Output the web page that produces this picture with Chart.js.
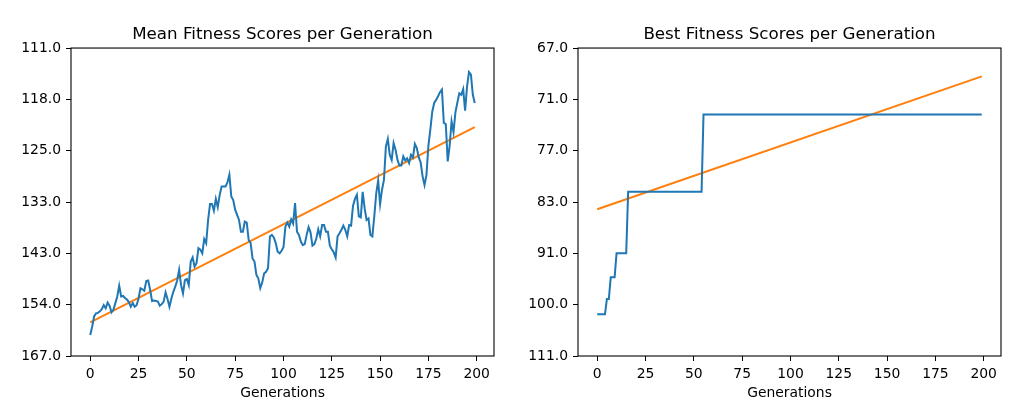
<!DOCTYPE html>
<html>
<head>
<meta charset="utf-8">
<script src="https://cdn.jsdelivr.net/npm/chart.js@4"></script>
<style>
  html, body { margin: 0; padding: 0; background: #fff; }
  #wrap { position: relative; width: 1025px; height: 400px; }
  .box { position: absolute; top: 0; height: 400px; }
</style>
</head>
<body>
<div id="wrap">
  <div class="box" style="left:0;width:512px"><canvas id="meanChart"></canvas></div>
  <div class="box" style="left:512px;width:513px"><canvas id="bestChart"></canvas></div>
</div>
<script>
// y values are in tick-slot units (0 = bottom tick, 6 = top tick)
const generations = Array.from({ length: 200 }, (_, i) => i);
const xTicks = [0, 25, 50, 75, 100, 125, 150, 175, 200];
const slotTicks = [0, 1, 2, 3, 4, 5, 6];

const meanTickLabels = ["167.0", "154.0", "143.0", "133.0", "125.0", "118.0", "111.0"];
const bestTickLabels = ["111.0", "100.0", "91.0", "83.0", "77.0", "71.0", "67.0"];

const meanScores = [
  0.41, 0.57, 0.77, 0.83, 0.84, 0.87, 0.91, 0.99, 0.93, 1.04,
  0.98, 0.85, 0.90, 1.03, 1.16, 1.37, 1.16, 1.17, 1.13, 1.10,
  1.05, 0.96, 1.03, 0.96, 0.99, 1.12, 1.32, 1.30, 1.27, 1.46,
  1.47, 1.29, 1.07, 1.08, 1.07, 1.06, 0.98, 1.01, 1.06, 1.24,
  1.11, 0.96, 1.12, 1.25, 1.35, 1.47, 1.68, 1.38, 1.22, 1.48,
  1.50, 1.38, 1.84, 1.92, 1.74, 1.81, 2.10, 2.07, 2.00, 2.28,
  2.20, 2.65, 2.96, 2.96, 2.83, 3.06, 2.90, 3.14, 3.30, 3.30,
  3.30, 3.38, 3.53, 3.11, 3.04, 2.85, 2.75, 2.65, 2.42, 2.42,
  2.62, 2.60, 2.26, 2.20, 1.90, 1.84, 1.58, 1.51, 1.32, 1.43,
  1.61, 1.64, 1.71, 2.33, 2.36, 2.31, 2.20, 2.03, 2.00, 2.05,
  2.12, 2.52, 2.60, 2.52, 2.66, 2.58, 2.98, 2.42, 2.36, 2.23,
  2.16, 2.18, 2.36, 2.51, 2.41, 2.15, 2.18, 2.29, 2.47, 2.33,
  2.55, 2.55, 2.42, 2.42, 2.15, 2.08, 2.02, 1.92, 2.33, 2.39,
  2.46, 2.54, 2.46, 2.33, 2.55, 2.54, 2.93, 3.06, 3.14, 2.72,
  2.70, 3.20, 2.88, 2.65, 2.68, 2.36, 2.33, 2.72, 3.17, 3.42,
  2.96, 3.24, 3.43, 4.08, 4.23, 3.92, 3.82, 4.15, 4.02, 3.82,
  3.71, 3.71, 3.89, 3.81, 3.85, 3.76, 3.92, 3.87, 4.13, 4.05,
  3.87, 3.77, 3.50, 3.33, 3.53, 4.10, 4.41, 4.76, 4.93, 4.99,
  5.06, 5.14, 5.19, 4.54, 4.52, 3.79, 4.10, 4.57, 4.36, 4.75,
  4.94, 5.12, 5.09, 5.20, 4.78, 5.25, 5.53, 5.48, 5.09, 4.93
];

const bestScores = [
  0.813, 0.813, 0.813, 0.813, 0.813, 1.11, 1.11, 1.535, 1.535, 1.535,
  2.0, 2.0, 2.0, 2.0, 2.0, 2.0, 3.2, 3.2, 3.2, 3.2,
  3.2, 3.2, 3.2, 3.2, 3.2, 3.2, 3.2, 3.2, 3.2, 3.2,
  3.2, 3.2, 3.2, 3.2, 3.2, 3.2, 3.2, 3.2, 3.2, 3.2,
  3.2, 3.2, 3.2, 3.2, 3.2, 3.2, 3.2, 3.2, 3.2, 3.2,
  3.2, 3.2, 3.2, 3.2, 3.2, 4.706, 4.706, 4.706, 4.706, 4.706,
  4.706, 4.706, 4.706, 4.706, 4.706, 4.706, 4.706, 4.706, 4.706, 4.706,
  4.706, 4.706, 4.706, 4.706, 4.706, 4.706, 4.706, 4.706, 4.706, 4.706,
  4.706, 4.706, 4.706, 4.706, 4.706, 4.706, 4.706, 4.706, 4.706, 4.706,
  4.706, 4.706, 4.706, 4.706, 4.706, 4.706, 4.706, 4.706, 4.706, 4.706,
  4.706, 4.706, 4.706, 4.706, 4.706, 4.706, 4.706, 4.706, 4.706, 4.706,
  4.706, 4.706, 4.706, 4.706, 4.706, 4.706, 4.706, 4.706, 4.706, 4.706,
  4.706, 4.706, 4.706, 4.706, 4.706, 4.706, 4.706, 4.706, 4.706, 4.706,
  4.706, 4.706, 4.706, 4.706, 4.706, 4.706, 4.706, 4.706, 4.706, 4.706,
  4.706, 4.706, 4.706, 4.706, 4.706, 4.706, 4.706, 4.706, 4.706, 4.706,
  4.706, 4.706, 4.706, 4.706, 4.706, 4.706, 4.706, 4.706, 4.706, 4.706,
  4.706, 4.706, 4.706, 4.706, 4.706, 4.706, 4.706, 4.706, 4.706, 4.706,
  4.706, 4.706, 4.706, 4.706, 4.706, 4.706, 4.706, 4.706, 4.706, 4.706,
  4.706, 4.706, 4.706, 4.706, 4.706, 4.706, 4.706, 4.706, 4.706, 4.706,
  4.706, 4.706, 4.706, 4.706, 4.706, 4.706, 4.706, 4.706, 4.706, 4.706
];

// fitted trend lines, value at first and last generation
const trendGens = [0, 199];
const meanTrend = [0.657, 4.46];
const bestTrend = [2.86, 5.447];

const FONT = "DejaVu Sans";

const framePlugin = {
  id: "frame",
  afterDatasetsDraw(chart) {
    const a = chart.chartArea;
    const ctx = chart.ctx;
    ctx.save();
    ctx.strokeStyle = "#000";
    ctx.lineWidth = 1.1;
    ctx.strokeRect(a.left, a.top, a.right - a.left, a.bottom - a.top);
    ctx.restore();
  }
};

function makeChart(id, title, scores, trend, tickLabels, yWidth, padRight) {
  new Chart(document.getElementById(id), {
    type: "line",
    data: {
      datasets: [
        {
          data: generations.map((g, i) => ({ x: g, y: scores[i] })),
          borderColor: "#1f77b4",
          borderWidth: 2,
          pointRadius: 0,
          tension: 0,
        },
        {
          data: trendGens.map((g, i) => ({ x: g, y: trend[i] })),
          borderColor: "#ff7f0e",
          borderWidth: 2,
          pointRadius: 0,
          tension: 0,
        },
      ],
    },
    options: {
      responsive: true,
      maintainAspectRatio: false,
      animation: false,
      layout: { padding: { left: 0, right: padRight, top: 0, bottom: 0 } },
      plugins: {
        legend: { display: false },
        tooltip: { enabled: false },
        title: {
          display: true,
          text: title,
          fullSize: false,
          color: "#000",
          font: { family: FONT, size: 16.7, weight: "normal" },
          padding: { top: 25, bottom: 3 },
        },
      },
      scales: {
        x: {
          type: "linear",
          min: -9.95,
          max: 208.95,
          afterBuildTicks: (s) => { s.ticks = xTicks.map((v) => ({ value: v })); },
          afterFit: (s) => { s.height = 44; },
          border: { display: false },
          grid: { drawOnChartArea: false, drawTicks: true, tickLength: 5, color: "#000" },
          ticks: { color: "#000", font: { family: FONT, size: 13.9 }, padding: 5, maxRotation: 0, autoSkip: false },
          title: {
            display: true,
            text: "Generations",
            color: "#000",
            font: { family: FONT, size: 13.9, lineHeight: 1.0 },
            padding: { top: 0, bottom: 0 },
          },
        },
        y: {
          type: "linear",
          min: 0,
          max: 6,
          afterBuildTicks: (s) => { s.ticks = slotTicks.map((v) => ({ value: v })); },
          afterFit: (s) => { s.width = yWidth; },
          border: { display: false },
          grid: { drawOnChartArea: false, drawTicks: true, tickLength: 5, color: "#000" },
          ticks: {
            color: "#000",
            font: { family: FONT, size: 13.9 },
            padding: 5,
            autoSkip: false,
            callback: (v, i) => tickLabels[i],
          },
        },
      },
    },
    plugins: [framePlugin],
  });
}

makeChart("meanChart", "Mean Fitness Scores per Generation", meanScores, meanTrend, meanTickLabels, 71, 18);
makeChart("bestChart", "Best Fitness Scores per Generation", bestScores, bestTrend, bestTickLabels, 66, 24);
</script>
</body>
</html>
